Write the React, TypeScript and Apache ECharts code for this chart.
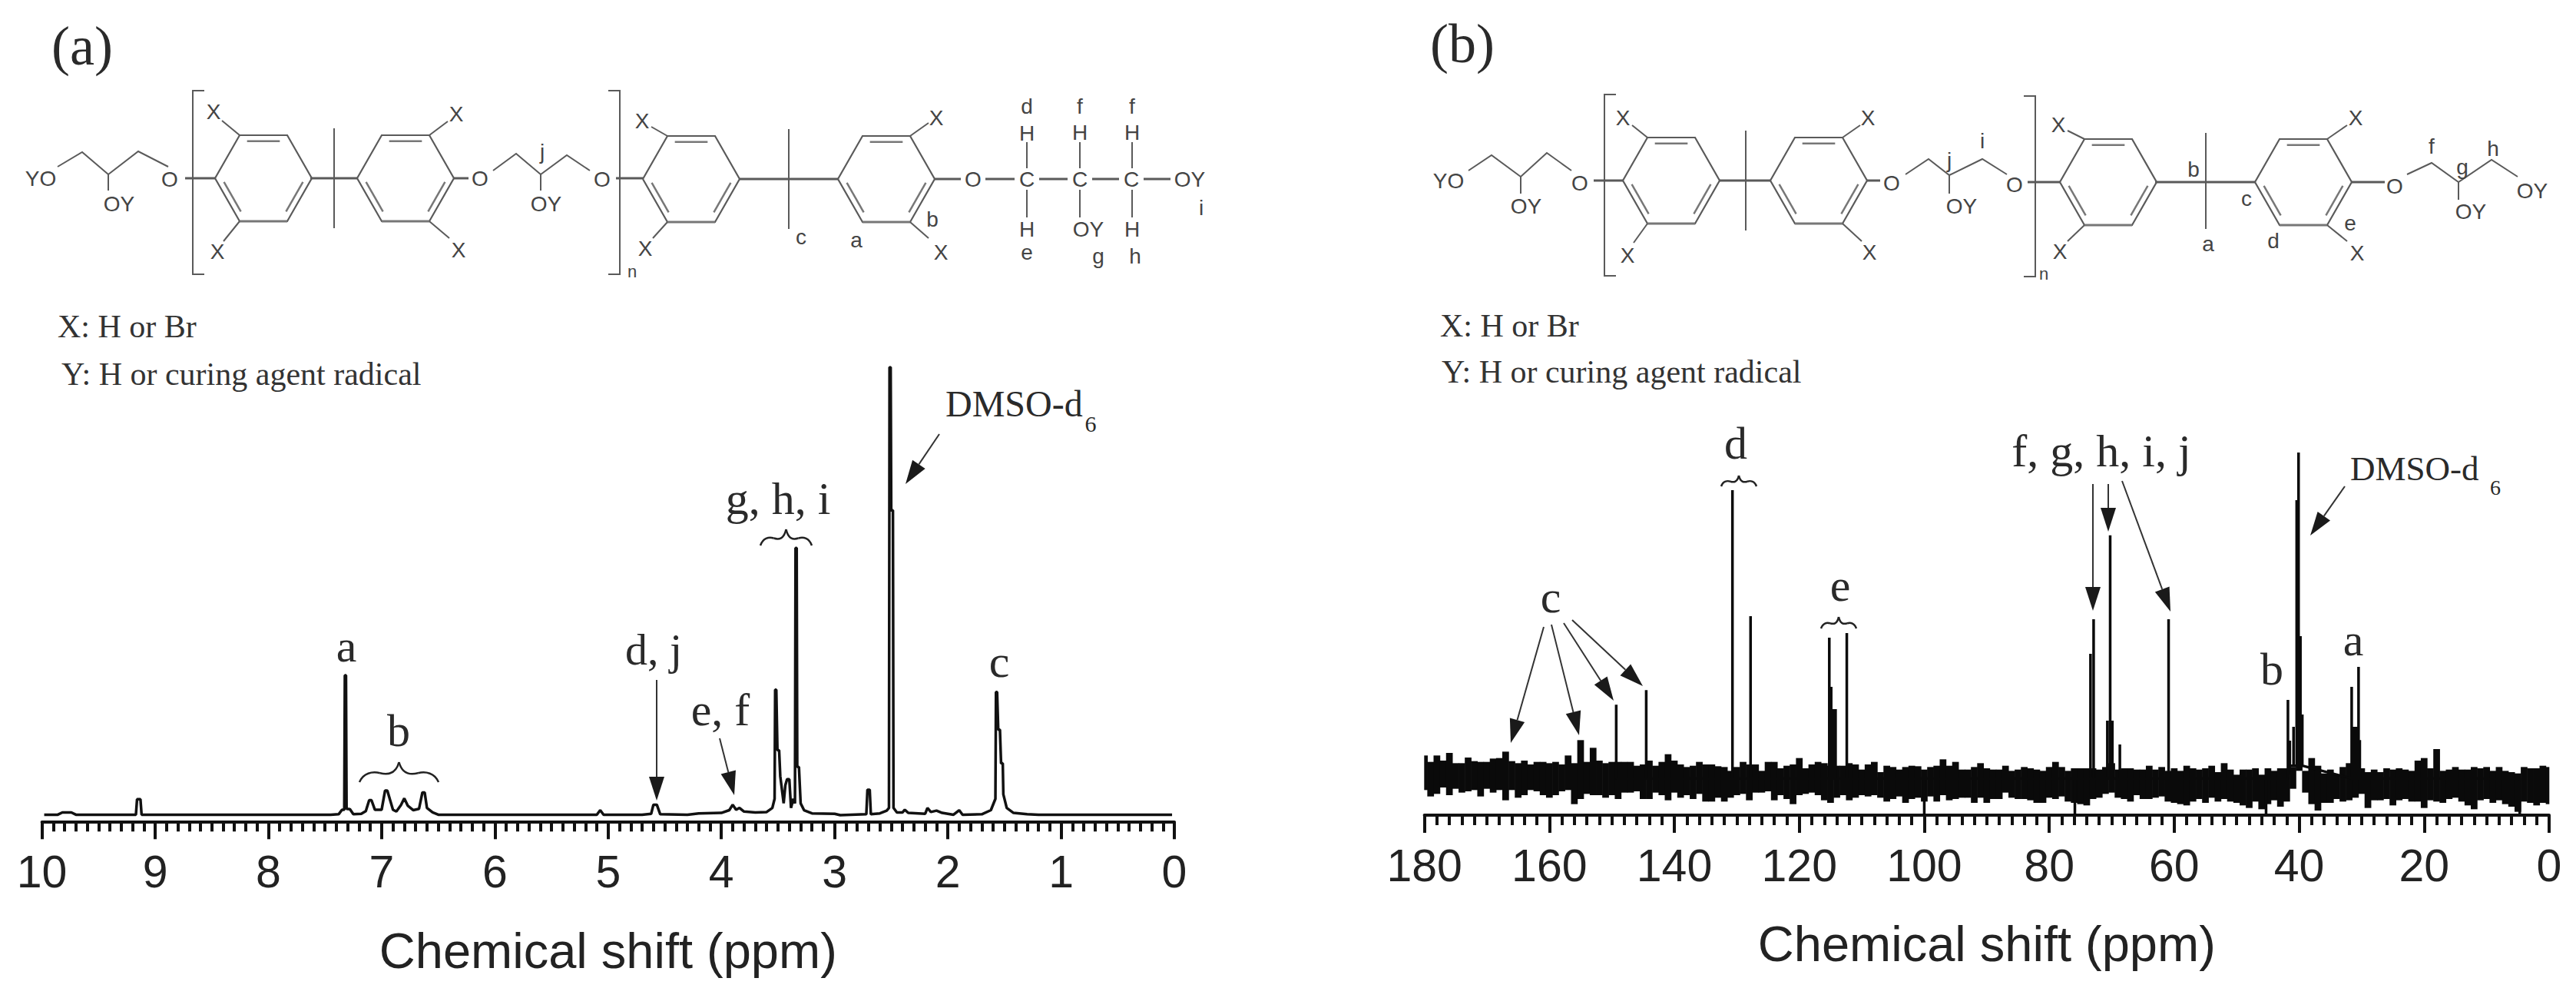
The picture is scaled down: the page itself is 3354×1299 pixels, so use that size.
import React, { useEffect, useRef } from "react";
import * as echarts from "echarts";

// ---------- data ----------
const hTicksMax = 10;
const cTicksMax = 180;
const xName = "Chemical shift (ppm)";

// 1H spectrum trace
const hShift = [
  9.98, 9.86, 9.82, 9.74, 9.7, 9.17, 9.16, 9.13, 9.12, 7.45, 7.38, 7.35, 7.33, 7.325, 7.315, 7.31, 7.28, 7.25, 7.18,
  7.14, 7.11, 7.09, 7.06, 7.0, 6.97, 6.95, 6.9, 6.87, 6.83, 6.8, 6.77, 6.72, 6.67, 6.64, 6.62, 6.6, 6.55, 6.5, 5.1,
  5.07, 5.04, 4.7, 4.62, 4.6, 4.57, 4.54, 4.3, 4.2, 4.0, 3.93, 3.9, 3.87, 3.84, 3.8, 3.7, 3.6, 3.55, 3.53, 3.525,
  3.515, 3.505, 3.49, 3.48, 3.47, 3.45, 3.435, 3.42, 3.4, 3.385, 3.365, 3.35, 3.345, 3.335, 3.33, 3.315, 3.3, 3.27,
  3.2, 3.0, 2.95, 2.72, 2.71, 2.69, 2.68, 2.6, 2.54, 2.52, 2.515, 2.505, 2.5, 2.485, 2.48, 2.45, 2.4, 2.38, 2.35, 2.2,
  2.18, 2.15, 2.1, 2.05, 1.95, 1.9, 1.87, 1.7, 1.62, 1.58, 1.575, 1.565, 1.555, 1.54, 1.53, 1.515, 1.51, 1.48, 1.42,
  1.3, 1.2, 0.02,
];
const hIntensity = [
  1.5, 1.5, 2.0, 2.0, 1.5, 1.5, 4.9, 4.9, 1.5, 1.5, 1.6, 2.6, 2.6, 32.2, 32.2, 2.8, 2.7, 1.6, 1.7,
  2.3, 4.7, 4.7, 2.6, 2.6, 6.8, 6.8, 2.6, 2.2, 3.6, 5.1, 3.5, 2.5, 2.8, 6.4, 6.4, 3, 2, 1.5, 1.5,
  2.5, 1.5, 1.5, 1.7, 3.7, 3.7, 1.6, 1.5, 1.8, 1.9, 2.5, 3.7, 2.6, 3.0, 2.2, 2.0, 2.1, 3, 5, 29,
  29, 15.7, 15.7, 10, 8, 4, 8, 9.3, 9.3, 3, 5, 4, 60.2, 60.2, 12, 12, 4, 2.5,
  1.8, 1.7, 1.4, 1.6, 7, 7, 1.6, 1.8, 2.4, 3, 100, 100, 68.5, 68.5, 3, 2, 2, 2.6, 1.9, 1.7,
  3, 2.1, 2.4, 1.9, 1.5, 2.5, 1.5, 1.6, 2.5, 5, 28.5, 28.5, 20.2, 20.2, 12.8, 12.8, 6, 3, 1.9,
  1.6, 1.5, 1.5,
];

// 13C noise band, upper and lower edges read per ppm, from 180 down to 0
const cNoiseTop = [
  240, 215, 240, 220, 250, 210, 210, 232, 218, 215,
  215, 228, 230, 255, 218, 210, 220, 205, 215, 215,
  210, 215, 205, 240, 210, 300, 215, 270, 220, 210,
  215, 215, 215, 215, 200, 205, 220, 200, 215, 245,
  220, 205, 195, 200, 215, 205, 205, 198, 195, 180,
  195, 215, 205, 205, 180, 215, 215, 190, 200, 205,
  230, 190, 205, 215, 210, 200, 200, 200, 210, 205,
  185, 205, 215, 175, 200, 195, 185, 195, 200, 198,
  185, 195, 200, 225, 200, 215, 185, 185, 195, 210,
  190, 185, 185, 200, 180, 185, 195, 190, 185, 180,
  195, 215, 195, 180, 190, 190, 190, 190, 185, 195,
  210, 185, 190, 190, 185, 185, 200, 185, 195, 180,
  190, 180, 200, 190, 185, 190, 200, 175, 210, 185,
  165, 185, 185, 190, 165, 190, 180, 190, 190, 195,
  210, 180, 230, 200, 170, 185, 165, 195, 210, 200,
  190, 175, 185, 175, 190, 185, 190, 185, 180, 220,
  230, 190, 265, 180, 185, 195, 185, 185, 195, 190,
  195, 180, 195, 180, 175, 170, 195, 190, 190, 200,
  195,
];
const cNoiseBottom = [
  105, 80, 90, 115, 85, 110, 95, 100, 105, 80,
  110, 95, 105, 65, 105, 75, 85, 105, 100, 85,
  75, 85, 100, 105, 50, 70, 90, 85, 85, 75,
  85, 70, 95, 95, 100, 70, 70, 95, 85, 65,
  95, 75, 85, 70, 90, 60, 60, 75, 60, 75,
  85, 90, 65, 95, 95, 100, 65, 85, 70, 50,
  85, 90, 95, 85, 65, 55, 75, 85, 65, 75,
  85, 80, 85, 75, 60, 70, 80, 55, 70, 75,
  60, 80, 60, 85, 65, 70, 75, 75, 55, 75,
  55, 70, 70, 95, 75, 70, 70, 65, 55, 55,
  75, 70, 80, 60, 55, 50, 45, 70, 75, 90,
  95, 75, 70, 60, 85, 70, 70, 75, 80, 60,
  55, 50, 45, 60, 70, 55, 75, 60, 70, 60,
  55, 45, 35, 60, 30, 50, 65, 40, 60, 110,
  180, 95, 50, 25, 55, 55, 70, 60, 65, 75,
  90, 35, 65, 65, 70, 45, 65, 70, 60, 60,
  35, 65, 60, 55, 70, 75, 60, 45, 30, 65,
  70, 55, 65, 50, 40, 20, 60, 55, 45, 55,
  50,
];
// 13C sharp lines rising out of the band, and the few that drop below it
const cLineShift = [
  149.3, 144.5, 130.7, 127.8, 115.2, 114.9, 114.6, 114.2, 112.4, 100, 75.9, 73.4, 72.9, 70.7, 70.25, 69.9, 68.7, 60.9,
  45.3, 41.8, 41.5, 40.9, 40.4, 40.1, 39.8, 39.5, 31.6, 31.2, 30.8, 30.5, 30.3, 4.7,
];
const cLineTop = [
  438, 495, 1276, 784, 700, 508, 421, 421, 718, 8, 8, 637, 772, 376, 1100, 376, 283, 772,
  12, 457, 298, 352, 1237, 1423, 706, 400, 508, 352, 352, 586, 300, 12,
];

// ---------- drawing helpers ----------
const SERIF = "Liberation Serif";
const SANS = "Liberation Sans";
const CHEM = "#5a5a5a";

const txt = (text: string, x: number, y: number, fontSize: number, fontFamily = SERIF, fill = "#2a2a2a", align = "center") => ({
  type: "text", x, y, silent: true,
  style: { text, fontSize, fontFamily, fill, align, verticalAlign: "middle" },
});
const ln = (x1: number, y1: number, x2: number, y2: number, lineWidth = 2, stroke = CHEM) => ({
  type: "line", silent: true, shape: { x1, y1, x2, y2 }, style: { stroke, lineWidth },
});
const chem = (text: string, x: number, y: number, size = 28) => txt(text, x, y, size, SANS, "#444");
const poly = (points: number[][], lineWidth = 2, stroke = CHEM) => ({
  type: "polyline", silent: true, shape: { points }, style: { stroke, lineWidth, fill: "none" },
});
const arrow = (x1: number, y1: number, x2: number, y2: number) => {
  const a = Math.atan2(y2 - y1, x2 - x1);
  const L = 31, W = 10;
  const bx = x2 - L * Math.cos(a), by = y2 - L * Math.sin(a);
  const nx = -Math.sin(a) * W, ny = Math.cos(a) * W;
  return [
    ln(x1, y1, bx, by, 2, "#333"),
    { type: "polygon", silent: true, shape: { points: [[x2, y2], [bx + nx, by + ny], [bx - nx, by - ny]] }, style: { fill: "#1a1a1a" } },
  ];
};
const curve = (x1: number, y1: number, cx1: number, cy1: number, cx2: number, cy2: number, x2: number, y2: number) => ({
  type: "bezierCurve", silent: true,
  shape: { x1, y1, x2, y2, cpx1: cx1, cpy1: cy1, cpx2: cx2, cpy2: cy2 },
  style: { stroke: "#222", lineWidth: 2.5, fill: "none" },
});
const brace = (xa: number, xb: number, yt: number, yb: number) => {
  const m = (xa + xb) / 2, w = xb - xa, h = yb - yt, mid = yt + h * 0.55;
  return [
    curve(xa, yb, xa + w * 0.05, mid, xa + w * 0.16, mid - h * 0.1, xa + w * 0.26, mid),
    curve(xa + w * 0.26, mid, xa + w * 0.36, mid + h * 0.1, xa + w * 0.46, mid + h * 0.05, m, yt),
    curve(m, yt, xb - w * 0.46, mid + h * 0.05, xb - w * 0.36, mid + h * 0.1, xb - w * 0.26, mid),
    curve(xb - w * 0.26, mid, xb - w * 0.16, mid - h * 0.1, xb - w * 0.05, mid, xb, yb),
  ];
};
const ring = (x0: number, y: number) => {
  const v = [[x0, y], [x0 + 32, y - 56], [x0 + 94, y - 56], [x0 + 126, y], [x0 + 94, y + 56], [x0 + 32, y + 56]];
  const cx = x0 + 63;
  const inner = (i: number, j: number) => {
    const s = 0.14;
    const p = (q: number[]) => [q[0] + (cx - q[0]) * s, q[1] + (y - q[1]) * s];
    const a = p(v[i]), b = p(v[j]);
    const tx = (b[0] - a[0]) * 0.1, ty = (b[1] - a[1]) * 0.1;
    return ln(a[0] + tx, a[1] + ty, b[0] - tx, b[1] - ty, 2.5, "#777");
  };
  return [poly([...v, v[0]], 2.2), inner(1, 2), inner(3, 4), inner(5, 0), ln(v[4][0], v[4][1], v[5][0], v[5][1], 3, "#777")];
};
const bracket = (x: number, yt: number, yb: number, dir: number) =>
  poly([[x + dir * 15, yt], [x, yt], [x, yb], [x + dir * 15, yb]], 2);

const structureA = [
  chem("YO", 53, 232), poly([[75, 217], [107, 198], [141, 227], [180, 197], [219, 217]]),
  ln(141, 227, 141, 248), chem("OY", 155, 265), chem("O", 221, 233), ln(241, 232, 280, 232, 3),
  bracket(251, 118, 357, 1), bracket(807, 118, 357, -1), chem("n", 823, 353, 22),
  ...ring(280, 232), ln(312, 176, 289, 157), chem("X", 278, 145), ln(312, 288, 291, 314), chem("X", 283, 327),
  ln(404, 232, 465, 232, 3), ln(435, 167, 435, 297),
  ...ring(465, 232),
  ln(559, 176, 583, 158), chem("X", 594, 148), ln(559, 288, 585, 310), chem("X", 597, 325),
  ln(591, 232, 610, 232, 3), chem("O", 625, 232),
  poly([[642, 222], [672, 200], [704, 227], [738, 202], [768, 222]]), chem("j", 706, 197),
  ln(704, 227, 704, 248), chem("OY", 711, 265), chem("O", 784, 233), ln(802, 232, 837, 232, 3),
  ...ring(837, 233), ln(869, 177, 848, 165), chem("X", 836, 157), ln(869, 289, 850, 310), chem("X", 840, 323),
  ln(963, 233, 1091, 233, 3), ln(1027, 168, 1027, 298), chem("c", 1043, 308),
  ...ring(1091, 233), ln(1185, 177, 1209, 160), chem("X", 1219, 153), ln(1185, 289, 1209, 310), chem("X", 1225, 328),
  chem("a", 1115, 312), chem("b", 1214, 285),
  ln(1217, 233, 1251, 233, 3), chem("O", 1267, 233), ln(1283, 233, 1321, 233, 3), chem("C", 1337, 233),
  ln(1353, 233, 1390, 233, 3), chem("C", 1406, 233), ln(1422, 233, 1457, 233, 3), chem("C", 1473, 233),
  ln(1489, 233, 1524, 233, 3), chem("OY", 1549, 233), chem("i", 1564, 270),
  chem("d", 1337, 138), chem("H", 1337, 173), ln(1337, 185, 1337, 219),
  chem("f", 1406, 138), chem("H", 1406, 172), ln(1406, 185, 1406, 219),
  chem("f", 1474, 138), chem("H", 1474, 172), ln(1474, 185, 1474, 219),
  ln(1337, 247, 1337, 283), chem("H", 1337, 298), chem("e", 1337, 328),
  ln(1406, 247, 1406, 283), chem("OY", 1417, 298), chem("g", 1430, 333),
  ln(1474, 247, 1474, 283), chem("H", 1474, 298), chem("h", 1478, 333),
];

const structureB = [
  chem("YO", 1886, 235), poly([[1912, 222], [1942, 202], [1980, 230], [2014, 199], [2046, 222]]),
  ln(1980, 230, 1980, 252), chem("OY", 1987, 268), chem("O", 2057, 238), ln(2075, 235, 2113, 235, 3),
  bracket(2089, 123, 359, 1), bracket(2650, 125, 360, -1), chem("n", 2661, 356, 22),
  ...ring(2113, 235), ln(2145, 179, 2125, 163), chem("X", 2113, 153), ln(2145, 291, 2127, 316), chem("X", 2119, 332),
  ln(2239, 235, 2305, 235, 3), ln(2273, 170, 2273, 300),
  ...ring(2305, 235), ln(2399, 179, 2422, 163), chem("X", 2432, 153), ln(2399, 291, 2424, 314), chem("X", 2434, 328),
  ln(2431, 235, 2448, 235, 3), chem("O", 2463, 238),
  poly([[2481, 227], [2511, 207], [2538, 228], [2581, 207], [2613, 227]]), chem("j", 2538, 208), chem("i", 2581, 183),
  ln(2538, 228, 2538, 252), chem("OY", 2554, 268), chem("O", 2623, 240), ln(2640, 237, 2682, 237, 3),
  ...ring(2682, 237), ln(2714, 181, 2692, 170), chem("X", 2680, 162), ln(2714, 293, 2692, 314), chem("X", 2682, 327),
  ln(2806, 237, 2936, 237, 3), ln(2872, 173, 2872, 298), chem("b", 2856, 220), chem("a", 2875, 317), chem("c", 2925, 258),
  ...ring(2936, 237), ln(3030, 181, 3056, 163), chem("X", 3067, 153), ln(3030, 293, 3056, 314), chem("X", 3069, 329),
  chem("d", 2960, 313), chem("e", 3060, 290),
  ln(3062, 237, 3105, 237, 3), chem("O", 3118, 242),
  poly([[3134, 227], [3166, 212], [3201, 237], [3244, 208], [3278, 230]]),
  chem("f", 3166, 190), chem("h", 3246, 193), chem("g", 3206, 217),
  ln(3201, 237, 3201, 260), chem("OY", 3217, 275), chem("OY", 3297, 248),
];

const annotations = [
  txt("(a)", 107, 60, 72), txt("(b)", 1904, 57, 72),
  txt("X: H or Br", 75, 425, 42, SERIF, "#333", "left"),
  txt("Y: H or curing agent radical", 80, 487, 42, SERIF, "#333", "left"),
  txt("X: H or Br", 1875, 424, 42, SERIF, "#333", "left"),
  txt("Y: H or curing agent radical", 1877, 484, 42, SERIF, "#333", "left"),
  // panel (a)
  txt("a", 451, 841, 60), txt("b", 519, 951, 60), ...brace(468, 571, 992, 1018),
  txt("d, j", 851, 845, 58), ...arrow(855, 885, 855, 1042),
  txt("e, f", 938, 924, 60), ...arrow(937, 961, 956, 1035),
  txt("g, h, i", 1013, 649, 60), ...brace(990, 1057, 689, 710),
  txt("c", 1301, 861, 60),
  txt("DMSO-d", 1231, 525, 48, SERIF, "#2a2a2a", "left"), txt("6", 1420, 551, 30),
  ...arrow(1223, 565, 1179, 630),
  // panel (b)
  txt("c", 2019, 777, 60),
  ...arrow(2010, 816, 1967, 967), ...arrow(2020, 813, 2056, 957), ...arrow(2036, 811, 2101, 912), ...arrow(2047, 807, 2139, 893),
  txt("d", 2260, 577, 60), ...brace(2241, 2287, 619, 633),
  txt("e", 2396, 762, 60), ...brace(2371, 2417, 803, 818),
  txt("f, g, h, i, j", 2736, 587, 60),
  ...arrow(2725, 630, 2725, 795), ...arrow(2745, 630, 2745, 692), ...arrow(2763, 626, 2826, 796),
  txt("b", 2958, 871, 60), txt("a", 3064, 833, 60),
  txt("DMSO-d", 3060, 610, 45, SERIF, "#2a2a2a", "left"), txt("6", 3249, 634, 28),
  ...arrow(3053, 633, 3008, 697),
];

// ---------- option ----------
const hTrace = hShift.map((p, i) => [p, hIntensity[i]]);
const cBand = cNoiseTop.map((top, i) => [cTicksMax - i, cNoiseBottom[i], top]);
const cTrace: number[][] = [];
cLineShift.forEach((p, i) => {
  const base = Math.abs(p - 40) < 1.6 ? 200 : 150;
  cTrace.push([p, base], [p, cLineTop[i]], [p, base]);
});

const renderBand = (_: any, api: any) => {
  const p = api.value(0);
  const a = api.coord([Math.min(p + 0.5, cTicksMax), api.value(2)]);
  const b = api.coord([Math.max(p - 0.5, 0), api.value(1)]);
  return {
    type: "rect", silent: true,
    shape: { x: a[0] - 0.3, y: a[1], width: b[0] - a[0] + 0.6, height: b[1] - a[1] },
    style: { fill: "#0a0a0a" },
  };
};

const xAxis = (gridIndex: number, max: number, interval: number, nameGap: number) => ({
  type: "value", gridIndex, inverse: true, min: 0, max, interval,
  name: xName, nameLocation: "middle", nameGap,
  nameTextStyle: { fontFamily: SANS, fontSize: 65, color: "#222" },
  axisLine: { show: true, onZero: false, lineStyle: { color: "#111", width: 4 } },
  axisTick: { show: true, length: 23, lineStyle: { color: "#111", width: 4 } },
  minorTick: { show: true, splitNumber: 10, length: 13, lineStyle: { color: "#111", width: 4 } },
  splitLine: { show: false },
  axisLabel: { fontFamily: SANS, fontSize: 59, color: "#222", margin: 36, showMinLabel: true, showMaxLabel: true },
});
const yAxis = (gridIndex: number, min: number, max: number) => ({
  type: "value", gridIndex, min, max, show: false, splitLine: { show: false },
});

const option = {
  animation: false,
  backgroundColor: "#fff",
  grid: [
    { left: 54.6, right: 3354 - 1529, top: 478, height: 591.3, containLabel: false },
    { left: 1854.6, right: 3354 - 3319, top: 577.7, height: 483.3, containLabel: false },
  ],
  xAxis: [xAxis(0, hTicksMax, 1, 136), xAxis(1, cTicksMax, 20, 135)],
  yAxis: [yAxis(0, 0, 100), yAxis(1, 7, 1457)],
  graphic: { elements: [...structureA, ...structureB, ...annotations] },
  series: [
    {
      name: "1H", type: "line", xAxisIndex: 0, yAxisIndex: 0, data: hTrace, showSymbol: false, silent: true,
      lineStyle: { color: "#111", width: 3.5, join: "bevel", cap: "butt" },
    },
    {
      name: "13C noise", type: "custom", xAxisIndex: 1, yAxisIndex: 1, coordinateSystem: "cartesian2d",
      data: cBand, encode: { x: 0, y: [1, 2] }, renderItem: renderBand, silent: true,
    },
    {
      name: "13C lines", type: "line", xAxisIndex: 1, yAxisIndex: 1, data: cTrace, showSymbol: false, silent: true,
      lineStyle: { color: "#0a0a0a", width: 3.5, join: "bevel", cap: "butt" },
    },
  ],
};

export default function App() {
  const ref = useRef<HTMLDivElement>(null);
  useEffect(() => {
    document.body.style.margin = "0";
    const chart = echarts.init(ref.current as HTMLDivElement, undefined, { renderer: "svg" });
    chart.setOption(option as any);
    return () => chart.dispose();
  }, []);
  return <div ref={ref} style={{ width: 3354, height: 1299 }} />;
}
